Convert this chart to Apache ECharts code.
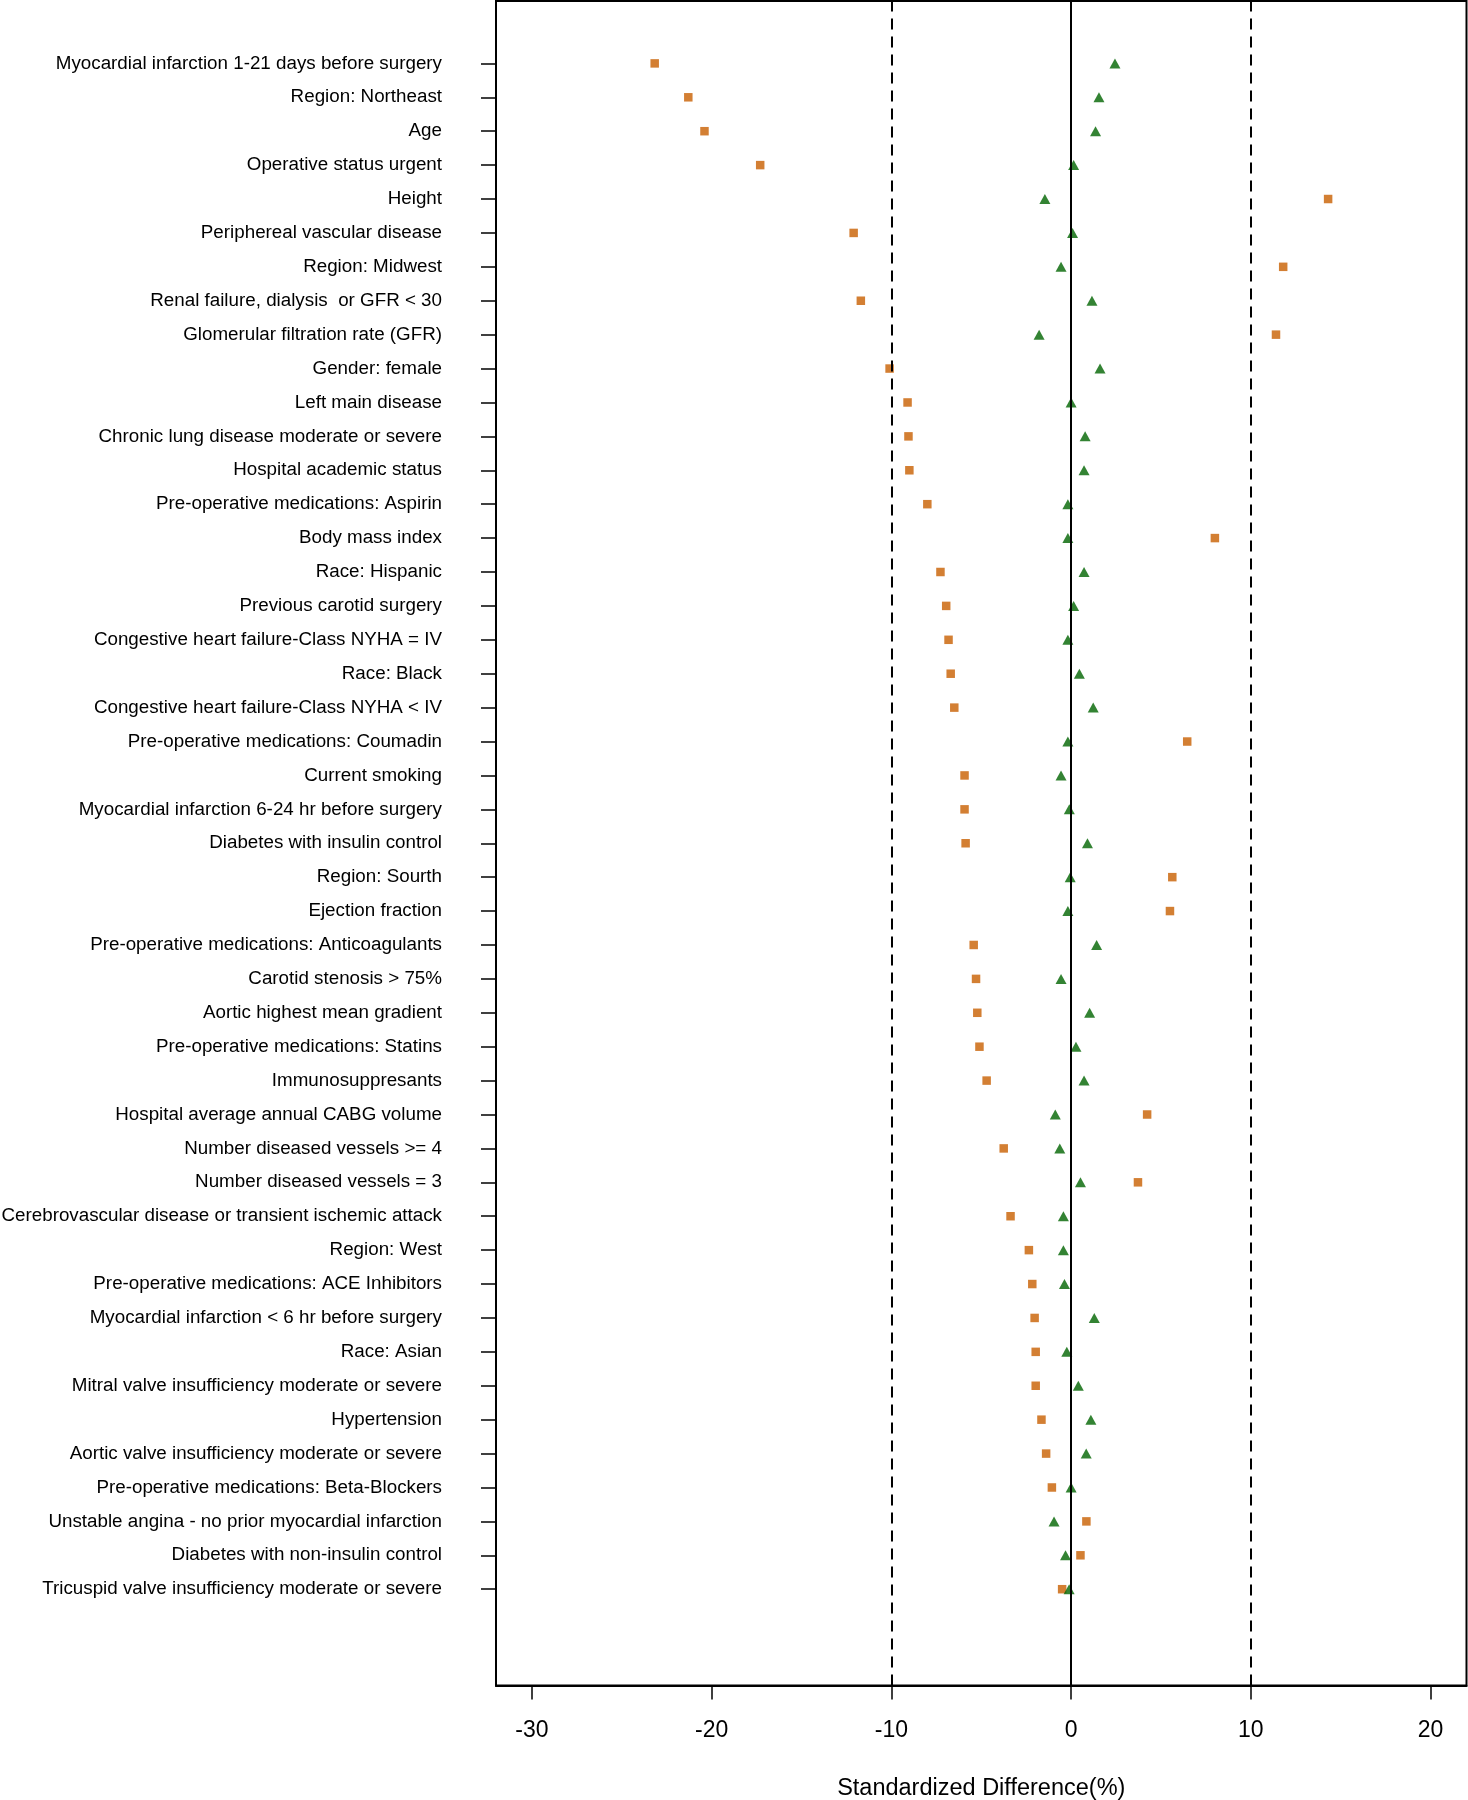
<!DOCTYPE html>
<html>
<head>
<meta charset="utf-8">
<script src="https://cdn.jsdelivr.net/npm/echarts@6/dist/echarts.min.js"></script>
<style>
html,body{margin:0;padding:0;background:#fff;}
#chart{width:1468px;height:1800px;}
</style>
</head>
<body>
<div id="chart"></div>
<script>
const categories = [
  "Myocardial infarction 1-21 days before surgery",
  "Region: Northeast",
  "Age",
  "Operative status urgent",
  "Height",
  "Periphereal vascular disease",
  "Region: Midwest",
  "Renal failure, dialysis  or GFR < 30",
  "Glomerular filtration rate (GFR)",
  "Gender: female",
  "Left main disease",
  "Chronic lung disease moderate or severe",
  "Hospital academic status",
  "Pre-operative medications: Aspirin",
  "Body mass index",
  "Race: Hispanic",
  "Previous carotid surgery",
  "Congestive heart failure-Class NYHA = IV",
  "Race: Black",
  "Congestive heart failure-Class NYHA < IV",
  "Pre-operative medications: Coumadin",
  "Current smoking",
  "Myocardial infarction 6-24 hr before surgery",
  "Diabetes with insulin control",
  "Region: Sourth",
  "Ejection fraction",
  "Pre-operative medications: Anticoagulants",
  "Carotid stenosis > 75%",
  "Aortic highest mean gradient",
  "Pre-operative medications: Statins",
  "Immunosuppresants",
  "Hospital average annual CABG volume",
  "Number diseased vessels >= 4",
  "Number diseased vessels = 3",
  "Cerebrovascular disease or transient ischemic attack",
  "Region: West",
  "Pre-operative medications: ACE Inhibitors",
  "Myocardial infarction < 6 hr before surgery",
  "Race: Asian",
  "Mitral valve insufficiency moderate or severe",
  "Hypertension",
  "Aortic valve insufficiency moderate or severe",
  "Pre-operative medications: Beta-Blockers",
  "Unstable angina - no prior myocardial infarction",
  "Diabetes with non-insulin control",
  "Tricuspid valve insufficiency moderate or severe"
];

const beforeMatching = [-23.17, -21.3, -20.4, -17.3, 14.3, -12.1, 11.8, -11.7, 11.4, -10.1,
  -9.1, -9.05, -9.0, -8.0, 8.0, -7.27, -6.95, -6.82, -6.7, -6.5,
  6.46, -5.93, -5.93, -5.87, 5.63, 5.5, -5.42, -5.29, -5.22, -5.1,
  -4.7, 4.23, -3.75, 3.72, -3.37, -2.35, -2.16, -2.03, -1.97, -1.97,
  -1.65, -1.39, -1.07, 0.85, 0.52, -0.5];

const afterMatching = [2.44, 1.55, 1.36, 0.14, -1.46, 0.08, -0.56, 1.16, -1.78, 1.61,
  0.0, 0.78, 0.72, -0.18, -0.18, 0.72, 0.14, -0.18, 0.46, 1.23,
  -0.18, -0.56, -0.1, 0.91, -0.05, -0.18, 1.42, -0.56, 1.03, 0.27,
  0.72, -0.88, -0.63, 0.52, -0.43, -0.43, -0.37, 1.29, -0.24, 0.4,
  1.1, 0.84, 0.0, -0.95, -0.31, -0.11];

const xTicks = [-30, -20, -10, 0, 10, 20];
const refLinesDashed = [-10, 10];
const refLineSolid = [0];

const n = categories.length;
const yPos = categories.map((_, i) => n - i);
const font = "'Liberation Sans', Arial, Helvetica, sans-serif";

const chart = echarts.init(document.getElementById('chart'), null, {renderer: 'canvas'});
chart.setOption({
  backgroundColor: '#ffffff',
  animation: false,
  grid: {
    left: 496, top: 1, right: 1.5, bottom: 114.5,
    containLabel: false,
    outerBoundsMode: 'none',
    show: true, borderColor: '#000', borderWidth: 2, backgroundColor: 'transparent'
  },
  xAxis: {
    type: 'value',
    min: -32, max: 22,
    name: 'Standardized Difference(%)',
    nameLocation: 'middle',
    nameGap: 91,
    nameTextStyle: {fontSize: 23.5, color: '#000', fontFamily: font},
    axisLine: {show: true, onZero: false, lineStyle: {color: '#000', width: 2}},
    axisTick: {show: true, length: 14, customValues: xTicks, lineStyle: {color: '#000', width: 1.5}},
    axisLabel: {show: true, customValues: xTicks, margin: 34, fontSize: 23, color: '#000', fontFamily: font},
    splitLine: {show: false}
  },
  yAxis: {
    type: 'value',
    min: -0.04 * n, max: n + 0.04 * n,
    axisLine: {show: true, onZero: false, lineStyle: {color: '#000', width: 2}},
    axisTick: {show: true, length: 15, customValues: yPos, lineStyle: {color: '#000', width: 1.5}},
    axisLabel: {
      show: true, customValues: yPos, margin: 54, fontSize: 18.8, color: '#000', fontFamily: font,
      formatter: v => categories[n - Math.round(v)] || ''
    },
    splitLine: {show: false}
  },
  series: [
    {
      type: 'line', data: [], z: 1, silent: true,
      markLine: {
        silent: true, symbol: 'none', label: {show: false}, animation: false,
        data: [
          ...refLinesDashed.map(v => ({xAxis: v, lineStyle: {type: [11, 7], color: '#000', width: 2}})),
          ...refLineSolid.map(v => ({xAxis: v, lineStyle: {type: 'solid', color: '#000', width: 2}}))
        ]
      }
    },
    {
      name: 'Before', type: 'scatter', z: 3,
      symbol: 'rect', symbolSize: 8.5,
      itemStyle: {color: '#C85F00'},
      data: beforeMatching.map((v, i) => [v, yPos[i]])
    },
    {
      name: 'After', type: 'scatter', z: 4,
      symbol: 'triangle', symbolSize: [11, 10],
      itemStyle: {color: '#006400'},
      data: afterMatching.map((v, i) => [v, yPos[i]])
    }
  ]
});
</script>
</body>
</html>
